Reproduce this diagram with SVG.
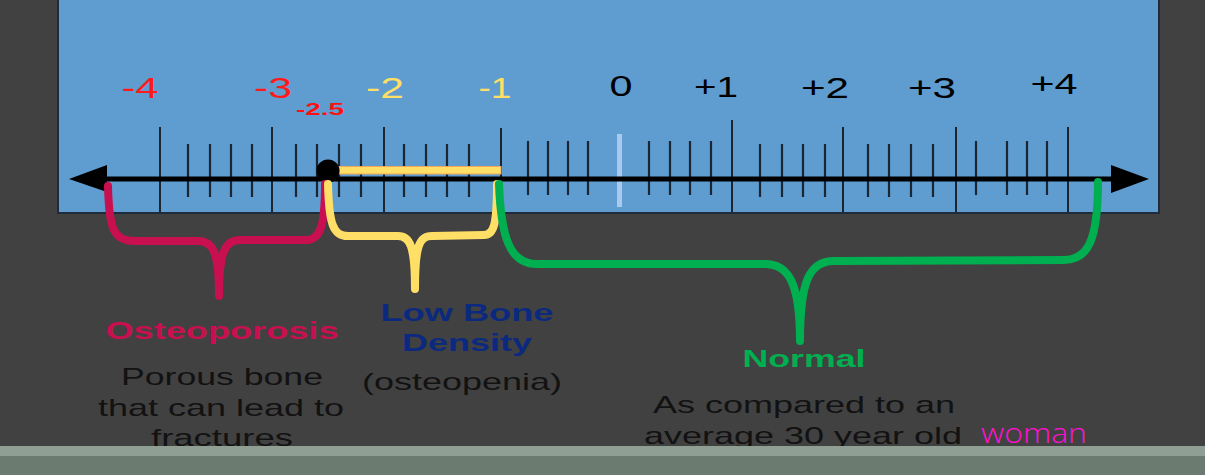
<svg xmlns="http://www.w3.org/2000/svg" width="1205" height="475" viewBox="0 0 1205 475">
  <style>
    .num{font-family:"Liberation Sans",Arial,sans-serif;font-size:29px;text-anchor:middle}
    .red{fill:#ff1a1a}
    .yel{fill:#ffdf66}
    .blk{fill:#000}
    .lbl{font-family:"Liberation Sans",Arial,sans-serif;font-weight:bold;font-size:24px;text-anchor:middle}
    .body{font-family:"Liberation Sans",Arial,sans-serif;font-size:24px;text-anchor:middle;fill:#121212}
    .maj{stroke:#1b2633;stroke-width:2}
    .min{stroke:#1b2633;stroke-width:2.2}
    .brace{fill:none;stroke-width:8;stroke-linecap:round;stroke-linejoin:round}
  </style>
  <rect x="0" y="0" width="1205" height="475" fill="#414141"/>
  <g id="scale-panel">
    <rect x="58" y="-2" width="1101" height="215" fill="#5f9cd0" stroke="#1f2b3a" stroke-width="2"/>
    <g id="major-ticks" class="maj">
      <line x1="160" y1="127" x2="160" y2="212"/>
      <line x1="272" y1="127" x2="272" y2="212"/>
      <line x1="384" y1="127" x2="384" y2="212"/>
      <line x1="501" y1="128" x2="501" y2="180"/>
      <line x1="732" y1="120" x2="732" y2="212"/>
      <line x1="843" y1="127" x2="843" y2="212"/>
      <line x1="956" y1="127" x2="956" y2="212"/>
      <line x1="1068" y1="127" x2="1068" y2="212"/>
    </g>
    <g id="minor-ticks" class="min">
      <line x1="188" y1="144" x2="188" y2="197"/>
      <line x1="210" y1="144" x2="210" y2="197"/>
      <line x1="231" y1="144" x2="231" y2="197"/>
      <line x1="252" y1="144" x2="252" y2="197"/>
      <line x1="296" y1="144" x2="296" y2="197"/>
      <line x1="317" y1="144" x2="317" y2="197"/>
      <line x1="339" y1="144" x2="339" y2="197"/>
      <line x1="361" y1="144" x2="361" y2="197"/>
      <line x1="404" y1="144" x2="404" y2="197"/>
      <line x1="426" y1="144" x2="426" y2="197"/>
      <line x1="447" y1="144" x2="447" y2="197"/>
      <line x1="469" y1="144" x2="469" y2="197"/>
      <line x1="528" y1="141" x2="528" y2="195"/>
      <line x1="548" y1="141" x2="548" y2="195"/>
      <line x1="568" y1="141" x2="568" y2="195"/>
      <line x1="588" y1="141" x2="588" y2="195"/>
      <line x1="649" y1="141" x2="649" y2="195"/>
      <line x1="670" y1="141" x2="670" y2="195"/>
      <line x1="690" y1="141" x2="690" y2="195"/>
      <line x1="711" y1="141" x2="711" y2="195"/>
      <line x1="760" y1="144" x2="760" y2="197"/>
      <line x1="782" y1="144" x2="782" y2="197"/>
      <line x1="803" y1="144" x2="803" y2="197"/>
      <line x1="825" y1="144" x2="825" y2="197"/>
      <line x1="868" y1="144" x2="868" y2="197"/>
      <line x1="889" y1="144" x2="889" y2="197"/>
      <line x1="911" y1="144" x2="911" y2="197"/>
      <line x1="933" y1="144" x2="933" y2="197"/>
      <line x1="976" y1="141" x2="976" y2="195"/>
      <line x1="1007" y1="141" x2="1007" y2="195"/>
      <line x1="1027" y1="141" x2="1027" y2="195"/>
      <line x1="1047" y1="141" x2="1047" y2="195"/>
    </g>
    <rect id="zero-mark" x="617" y="134" width="5" height="73" fill="#a9c9ef"/>
    <g id="axis">
      <line x1="105" y1="179" x2="1114" y2="179" stroke="#000" stroke-width="5"/>
      <polygon points="69,179 107,165 107,192" fill="#000"/>
      <polygon points="1149,179 1111,165 1111,193" fill="#000"/>
    </g>
    <rect id="low-bar" x="339" y="166.5" width="162" height="7.5" fill="#ffdf66" stroke="#f4a65a" stroke-width="1"/>
    <circle id="cutoff-dot" cx="328" cy="171" r="11.5" fill="#000"/>
    <g id="tick-labels">
      <text class="num red" x="140" y="98" textLength="37" lengthAdjust="spacingAndGlyphs">-4</text>
      <text class="num red" x="273" y="98" textLength="38" lengthAdjust="spacingAndGlyphs">-3</text>
      <text x="320" y="115" font-family="Liberation Sans, Arial, sans-serif" font-weight="bold" font-size="16" fill="#ff1010" text-anchor="middle" textLength="48" lengthAdjust="spacingAndGlyphs">-2.5</text>
      <text class="num yel" x="385" y="98" textLength="38" lengthAdjust="spacingAndGlyphs">-2</text>
      <text class="num yel" x="495" y="98" textLength="33" lengthAdjust="spacingAndGlyphs">-1</text>
      <text class="num blk" x="621" y="96" textLength="23" lengthAdjust="spacingAndGlyphs">0</text>
      <text class="num blk" x="716" y="97" textLength="44" lengthAdjust="spacingAndGlyphs">+1</text>
      <text class="num blk" x="825" y="98" textLength="48" lengthAdjust="spacingAndGlyphs">+2</text>
      <text class="num blk" x="932" y="98" textLength="48" lengthAdjust="spacingAndGlyphs">+3</text>
      <text class="num blk" x="1054" y="94" textLength="47" lengthAdjust="spacingAndGlyphs">+4</text>
    </g>
  </g>
  <g id="connectors">
    <path id="brace-osteoporosis" class="brace" stroke="#c80f50" d="M108 186 C109 228 113 241 135 241 L198 241 C213 241 219 252 219 296 C219 252 225 240 240 240 L305 240 C320 240 325 228 325 184"/>
    <path id="brace-low" class="brace" stroke="#ffdf66" d="M328 184 C329 224 333 236 348 236 L398 236 C410 236 415 246 415 289 C415 246 419 236 432 236 L484 235 C494 235 497 224 497 184"/>
    <path id="brace-normal" class="brace" stroke="#00b050" d="M499 184 C501 238 510 264 537 264 L765 264 C788 264 800 282 800 341 C800 282 809 261 834 261 L1064 260 C1088 260 1098 240 1098 182"/>
  </g>
  <g id="node-osteoporosis">
    <text class="lbl" x="222" y="339" fill="#c80f50" textLength="233" lengthAdjust="spacingAndGlyphs">Osteoporosis</text>
    <text class="body" x="222" y="385" textLength="202" lengthAdjust="spacingAndGlyphs">Porous bone</text>
    <text class="body" x="221" y="416" textLength="246" lengthAdjust="spacingAndGlyphs">that can lead to</text>
    <text class="body" x="222" y="446" textLength="142" lengthAdjust="spacingAndGlyphs">fractures</text>
  </g>
  <g id="node-low">
    <text class="lbl" x="467" y="321" fill="#0b2a7f" textLength="173" lengthAdjust="spacingAndGlyphs">Low Bone</text>
    <text class="lbl" x="467" y="351" fill="#0b2a7f" textLength="130" lengthAdjust="spacingAndGlyphs">Density</text>
    <text class="body" x="462" y="390" textLength="200" lengthAdjust="spacingAndGlyphs">(osteopenia)</text>
  </g>
  <g id="node-normal">
    <text class="lbl" x="804" y="367" fill="#00b050" textLength="123" lengthAdjust="spacingAndGlyphs">Normal</text>
    <text class="body" x="804" y="413" textLength="302" lengthAdjust="spacingAndGlyphs">As compared to an</text>
    <text class="body" x="803" y="444" textLength="318" lengthAdjust="spacingAndGlyphs">average 30 year old</text>
    <text x="981" y="443" font-family="Open Sans, DejaVu Sans, sans-serif" font-weight="300" font-size="28" fill="#ff10d0" textLength="106" lengthAdjust="spacingAndGlyphs">woman</text>
  </g>
  <g id="footer">
    <rect x="0" y="446" width="1205" height="10" fill="#909f94"/>
    <rect x="0" y="456" width="1205" height="19" fill="#6b7b70"/>
  </g>
</svg>
